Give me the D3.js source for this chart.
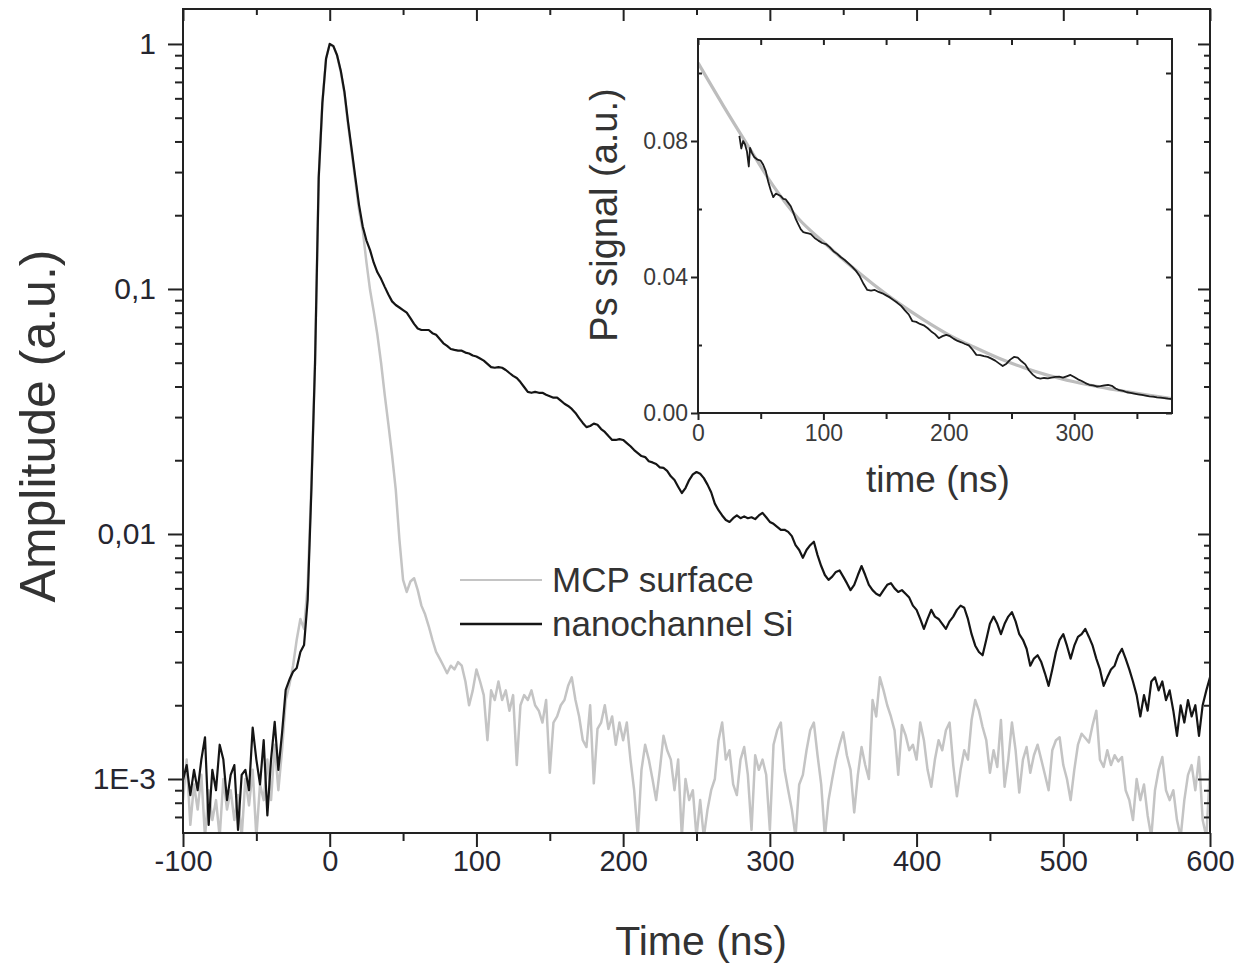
<!DOCTYPE html>
<html><head><meta charset="utf-8">
<script src="https://cdn.jsdelivr.net/npm/d3@7"></script>
<style>
html,body{margin:0;padding:0;background:#fff;}
svg{display:block;}
text{font-family:"Liberation Sans",Arial,Helvetica,sans-serif;}
</style></head><body>
<svg id="chart" width="1239" height="966"></svg>
<script>
// ---------------- DATA ----------------
// Main chart: sampling grid of the time axis (ns)
const mainTimeStart = -100;
const mainTimeStep = 2.5;

// nanochannel Si (black), amplitude (a.u.), one value per 2.5 ns from -100 ns
const nanoAmp = [
0.00099,0.00114,0.00086,0.00109,0.00090,0.00120,0.00148,0.00065,0.00109,0.00090,
0.00138,0.00120,0.00082,0.00104,0.00114,0.00062,0.00104,0.00109,0.00090,0.00162,
0.00120,0.00095,0.00144,0.00071,0.00120,0.00171,0.00109,0.00154,0.00231,0.00254,
0.00274,0.00284,0.00330,0.00352,0.0054,0.0151,0.050,0.285,0.575,0.87,
1.0,0.98,0.90,0.78,0.64,0.48,0.37,0.284,0.22,0.18,
0.158,0.144,0.128,0.117,0.110,0.102,0.095,0.089,0.086,0.084,
0.082,0.080,0.076,0.072,0.069,0.068,0.068,0.068,0.066,0.065,
0.0625,0.060,0.0586,0.0569,0.0564,0.0560,0.0560,0.055,0.0545,0.0535,
0.053,0.052,0.051,0.0495,0.048,0.0477,0.048,0.0477,0.0467,0.0454,
0.0442,0.0433,0.0417,0.0398,0.038,0.0377,0.038,0.0377,0.0377,0.037,
0.0365,0.036,0.036,0.035,0.034,0.0333,0.0324,0.0312,0.0297,0.0284,
0.0273,0.0276,0.0282,0.0279,0.0268,0.0261,0.0251,0.0242,0.0242,0.0244,
0.0242,0.0235,0.0228,0.0220,0.0214,0.0208,0.0206,0.0198,0.0196,0.0193,
0.0187,0.0186,0.0181,0.0172,0.0166,0.0156,0.0147,0.0154,0.0166,0.0175,
0.0179,0.0176,0.0169,0.0159,0.0148,0.0133,0.0125,0.0119,0.0114,0.0112,
0.0116,0.0119,0.0116,0.0118,0.0116,0.0117,0.0115,0.0119,0.0122,0.0117,
0.0112,0.0110,0.0107,0.0104,0.0104,0.0102,0.0098,0.0090,0.0086,0.0080,
0.0086,0.0090,0.0093,0.0082,0.0074,0.0068,0.0065,0.0067,0.0070,0.0071,
0.0067,0.0063,0.0059,0.0062,0.0068,0.0074,0.0068,0.0062,0.0059,0.0057,
0.0056,0.0059,0.0062,0.0063,0.0060,0.0058,0.0059,0.0057,0.0055,0.0051,
0.0049,0.0045,0.0041,0.0045,0.0049,0.0046,0.0045,0.0043,0.0041,0.0044,
0.0046,0.0049,0.0051,0.0050,0.0045,0.0039,0.0035,0.0033,0.0032,0.0037,
0.0043,0.0046,0.0043,0.0039,0.0043,0.0046,0.0048,0.0044,0.0039,0.0037,
0.0034,0.0029,0.0031,0.0032,0.0030,0.0027,0.0024,0.0028,0.0033,0.0037,
0.0039,0.0035,0.0031,0.0035,0.0038,0.0039,0.0041,0.0038,0.0035,0.0031,
0.0028,0.0024,0.0026,0.0028,0.0029,0.0032,0.0034,0.0031,0.0028,0.0025,
0.0022,0.0018,0.0022,0.0019,0.0025,0.0026,0.0023,0.0025,0.0021,0.0023,
0.0019,0.0015,0.0020,0.0017,0.0021,0.0018,0.0020,0.0015,0.0020,0.0023,
0.0026
];

// MCP surface (grey), amplitude (a.u.), same time grid
const mcpAmp = [
0.00082,0.0012,0.00065,0.00095,0.00075,0.00104,0.00058,0.0009,0.00068,0.00082,
0.00058,0.001,0.00075,0.0009,0.00068,0.00086,0.00058,0.001,0.00078,0.00109,
0.00058,0.00095,0.00082,0.0012,0.00082,0.00138,0.0009,0.00131,0.0021,0.00242,
0.0029,0.0037,0.0045,0.0041,0.0062,0.016,0.050,0.285,0.575,0.87,
1.0,0.98,0.90,0.77,0.63,0.47,0.36,0.275,0.21,0.174,
0.129,0.099,0.081,0.065,0.050,0.037,0.028,0.021,0.0152,0.0095,
0.0065,0.0058,0.0064,0.0066,0.0059,0.0051,0.0047,0.0042,0.0037,0.0033,
0.0031,0.0029,0.0027,0.0029,0.0028,0.0030,0.0029,0.0025,0.0020,0.0023,
0.0028,0.0025,0.0022,0.00144,0.0023,0.0021,0.0025,0.0021,0.0023,0.0019,
0.0022,0.00114,0.0020,0.0022,0.0021,0.0023,0.0020,0.0019,0.0017,0.0021,
0.00106,0.0017,0.0018,0.0020,0.0021,0.0024,0.0026,0.0021,0.0018,0.00144,
0.00135,0.0020,0.00096,0.0016,0.0017,0.0020,0.0016,0.0018,0.00138,0.0017,
0.00144,0.0017,0.0012,0.0009,0.00058,0.00109,0.00138,0.0012,0.001,0.00082,
0.00109,0.0015,0.00131,0.0012,0.0009,0.0012,0.00058,0.001,0.00082,0.0009,
0.00058,0.00082,0.00058,0.00075,0.0009,0.001,0.00144,0.0017,0.0012,0.00131,
0.00095,0.00086,0.0012,0.00135,0.00104,0.00062,0.00125,0.00109,0.0012,0.00104,
0.00062,0.00138,0.00158,0.0017,0.00109,0.0009,0.00075,0.00058,0.00095,0.00104,
0.00131,0.00158,0.0017,0.00125,0.00095,0.00058,0.00082,0.001,0.0012,0.00138,
0.00155,0.00125,0.00109,0.00073,0.00104,0.00135,0.00114,0.001,0.0021,0.0018,
0.0026,0.0023,0.002,0.0018,0.00158,0.00104,0.00166,0.00151,0.00131,0.00138,
0.0012,0.0017,0.00144,0.00109,0.00093,0.0012,0.00144,0.00131,0.00158,0.0017,
0.00114,0.00085,0.00109,0.00131,0.0012,0.00174,0.0021,0.0019,0.00163,0.00144,
0.00106,0.00131,0.00112,0.00174,0.00093,0.0012,0.0017,0.00131,0.00088,0.0012,
0.00135,0.00106,0.00125,0.00138,0.0012,0.00104,0.0009,0.00131,0.00144,0.00148,
0.00114,0.001,0.00082,0.00109,0.00138,0.00153,0.00147,0.00141,0.00166,0.0019,
0.0012,0.00112,0.00131,0.00114,0.00125,0.00118,0.00123,0.0009,0.00082,0.00068,
0.001,0.00082,0.00095,0.00071,0.00058,0.0009,0.00109,0.00123,0.0009,0.00082,
0.0009,0.00068,0.00058,0.00082,0.00104,0.00114,0.0009,0.00123,0.00068,0.00058,
0.00109
];

const xTickValues = [-100, 0, 100, 200, 300, 400, 500, 600];
const xTickLabels = ["-100", "0", "100", "200", "300", "400", "500", "600"];
const yTickValues = [1, 0.1, 0.01, 0.001];
const yTickLabels = ["1", "0,1", "0,01", "1E-3"];
const seriesNames = ["MCP surface", "nanochannel Si"];

// Inset: Ps signal data (black) and fit (grey)
const insetTime = [33,34.5,36,37.5,39,40.5,41.5,43,45,47.5,50,52,54,56,58,60,62,64,66,68,70,72,74,76,78,80,82,84,86,88,90,93,96,99,102,105,108,111,114,117,120,123,126,129,132,135,138,141,144,147,150,153,156,159,162,165,168,171,174,177,180,183,186,189,192,195,198,201,204,207,210,213,216,219,222,225,228,231,234,237,240,243,246,249,252,255,258,261,264,267,270,273,276,279,282,285,288,291,294,297,300,303,306,309,312,315,318,321,324,327,330,333,336,339,342,345,348,351,354,357,360,363,366,369,372,375,378];
const insetSignal = [0.0815,0.0778,0.0800,0.0790,0.0770,0.0725,0.0780,0.0765,0.0752,0.0745,0.0742,0.0730,0.0712,0.0680,0.0655,0.0635,0.0645,0.0642,0.0638,0.0630,0.0628,0.0618,0.0608,0.0590,0.0570,0.0555,0.0540,0.0532,0.0530,0.0528,0.0526,0.0515,0.0507,0.0500,0.0497,0.0488,0.0476,0.0468,0.0458,0.0450,0.0440,0.0430,0.0418,0.0402,0.0380,0.0362,0.0360,0.0362,0.0356,0.0352,0.0346,0.0340,0.0332,0.0324,0.0315,0.0302,0.0290,0.0270,0.0268,0.0262,0.0258,0.0250,0.0240,0.0232,0.0220,0.0226,0.0230,0.0226,0.0218,0.0212,0.0208,0.0203,0.0199,0.0186,0.0171,0.0170,0.0167,0.0165,0.0160,0.0154,0.0146,0.0138,0.0145,0.0157,0.0165,0.0163,0.0152,0.0143,0.0125,0.0113,0.0104,0.0101,0.0103,0.0102,0.0104,0.0106,0.0107,0.0104,0.0108,0.0112,0.0106,0.0099,0.0094,0.0088,0.0083,0.0081,0.0078,0.0079,0.0081,0.0083,0.0080,0.0072,0.0067,0.0065,0.0061,0.0059,0.0057,0.0055,0.0053,0.0051,0.0049,0.0048,0.0046,0.0045,0.0044,0.0042,0.0041];
const fitTime = [0,20,40,60,80,100,120,140,160,180,200,220,240,260,280,300,320,340,360,378];
const fitSignal = [0.103,0.0905,0.0785,0.0668,0.0572,0.0503,0.0438,0.0378,0.0323,0.0274,0.0230,0.0194,0.0161,0.0133,0.0110,0.0092,0.0077,0.0064,0.0052,0.0042];
const insetXTicks = [0, 100, 200, 300];
const insetXLabels = ["0", "100", "200", "300"];
const insetYTicks = [0, 0.04, 0.08];
const insetYLabels = ["0.00", "0.04", "0.08"];

if (nanoAmp.length !== mcpAmp.length) throw new Error("length mismatch " + nanoAmp.length + " " + mcpAmp.length);
if (insetTime.length !== insetSignal.length) throw new Error("inset mismatch " + insetTime.length + " " + insetSignal.length);
if (fitTime.length !== fitSignal.length) throw new Error("fit mismatch");

const mainTime = nanoAmp.map((_, i) => mainTimeStart + i * mainTimeStep);

// ---------------- DRAW ----------------
const svg = d3.select("#chart");
svg.append("rect").attr("width", 1239).attr("height", 966).attr("fill", "#fff");

const INK = "#222";
const LABEL = "#262630";

const x = d3.scaleLinear().domain([-100, 600]).range([183, 1210]);
const y = d3.scaleLog().domain([6.02e-4, 1.389]).range([833, 9]);

const defs = svg.append("defs");
defs.append("clipPath").attr("id", "clipMain").append("rect")
  .attr("x", 183).attr("y", 9).attr("width", 1027).attr("height", 824);

const line = d3.line().x(d => x(d[0])).y(d => y(d[1]));
const mcpData = mainTime.map((t, i) => [t, mcpAmp[i]]);
const nanoData = mainTime.map((t, i) => [t, nanoAmp[i]]);

const plot = svg.append("g").attr("clip-path", "url(#clipMain)");
plot.append("path").datum(mcpData).attr("d", line)
  .attr("fill", "none").attr("stroke", "#c4c4c4").attr("stroke-width", 2.5).attr("stroke-linejoin", "round");
plot.append("path").datum(nanoData).attr("d", line)
  .attr("fill", "none").attr("stroke", "#151515").attr("stroke-width", 2.2).attr("stroke-linejoin", "round");

function styleAxis(g, fontSize, color) {
  g.select(".domain").remove();
  g.selectAll(".tick line").attr("stroke", INK).attr("stroke-width", 2);
  g.selectAll(".tick text").attr("fill", color).attr("font-size", fontSize)
    .attr("font-family", '"Liberation Sans", Arial, sans-serif');
}

// minor tick values
const yMinor = [];
for (let e = -4; e <= 0; e++) {
  for (let m = 2; m <= 9; m++) {
    const v = m * Math.pow(10, e);
    if (v > 6.1e-4 && v < 1.38) yMinor.push(v);
  }
}
const xMinor = [-50, 50, 150, 250, 350, 450, 550];

// left
svg.append("g").attr("transform", "translate(183,0)")
  .call(d3.axisLeft(y).tickValues(yTickValues).tickFormat((d, i) => yTickLabels[i]).tickSize(15).tickPadding(12))
  .call(g => styleAxis(g, 30, LABEL));
svg.append("g").attr("transform", "translate(183,0)")
  .call(d3.axisLeft(y).tickValues(yMinor).tickFormat("").tickSize(8))
  .call(g => styleAxis(g, 30, LABEL));
// right (inward)
svg.append("g").attr("transform", "translate(1210,0)")
  .call(d3.axisRight(y).tickValues(yTickValues).tickFormat("").tickSize(-12))
  .call(g => styleAxis(g, 30, LABEL));
svg.append("g").attr("transform", "translate(1210,0)")
  .call(d3.axisRight(y).tickValues(yMinor).tickFormat("").tickSize(-6))
  .call(g => styleAxis(g, 30, LABEL));
// bottom
svg.append("g").attr("transform", "translate(0,833)")
  .call(d3.axisBottom(x).tickValues(xTickValues).tickFormat((d, i) => xTickLabels[i]).tickSize(14).tickPadding(3))
  .call(g => styleAxis(g, 29, LABEL));
svg.append("g").attr("transform", "translate(0,833)")
  .call(d3.axisBottom(x).tickValues(xMinor).tickFormat("").tickSize(8))
  .call(g => styleAxis(g, 29, LABEL));
// top (inward)
svg.append("g").attr("transform", "translate(0,9)")
  .call(d3.axisTop(x).tickValues(xTickValues).tickFormat("").tickSize(-12))
  .call(g => styleAxis(g, 29, LABEL));
svg.append("g").attr("transform", "translate(0,9)")
  .call(d3.axisTop(x).tickValues(xMinor).tickFormat("").tickSize(-6))
  .call(g => styleAxis(g, 29, LABEL));

// frame
svg.append("rect").attr("x", 183).attr("y", 9).attr("width", 1027).attr("height", 824)
  .attr("fill", "none").attr("stroke", INK).attr("stroke-width", 2);

// axis titles
svg.append("text").attr("transform", "translate(55,426) rotate(-90)")
  .attr("text-anchor", "middle").attr("font-size", 50).attr("fill", "#333")
  .text("Amplitude (a.u.)");
svg.append("text").attr("x", 701).attr("y", 955)
  .attr("text-anchor", "middle").attr("font-size", 41).attr("fill", "#333")
  .text("Time (ns)");

// legend
const legendColors = ["#c4c4c4", "#151515"];
const leg = svg.append("g");
seriesNames.forEach((name, i) => {
  const ly = 580 + i * 44;
  leg.append("line").attr("x1", 460).attr("x2", 542).attr("y1", ly).attr("y2", ly)
    .attr("stroke", legendColors[i]).attr("stroke-width", i === 0 ? 2 : 2.5);
  leg.append("text").attr("x", 552).attr("y", ly + 12).attr("font-size", 35).attr("fill", "#333").text(name);
});

// ---------------- INSET ----------------
const xi = d3.scaleLinear().domain([0, 378]).range([698, 1172]);
const yi = d3.scaleLinear().domain([0, 0.11]).range([413, 39]);

svg.append("rect").attr("x", 698).attr("y", 39).attr("width", 474).attr("height", 374)
  .attr("fill", "#fff");

defs.append("clipPath").attr("id", "clipInset").append("rect")
  .attr("x", 698).attr("y", 39).attr("width", 474).attr("height", 374);

const iline = d3.line().x(d => xi(d[0])).y(d => yi(d[1]));
const ifit = d3.line().x(d => xi(d[0])).y(d => yi(d[1])).curve(d3.curveMonotoneX);
const ig = svg.append("g").attr("clip-path", "url(#clipInset)");
ig.append("path").datum(fitTime.map((t, i) => [t, fitSignal[i]])).attr("d", ifit)
  .attr("fill", "none").attr("stroke", "#bdbdbd").attr("stroke-width", 3.2);
ig.append("path").datum(insetTime.map((t, i) => [t, insetSignal[i]])).attr("d", iline)
  .attr("fill", "none").attr("stroke", "#1c1c1c").attr("stroke-width", 1.8).attr("stroke-linejoin", "round");

const iyMinor = [0.02, 0.06, 0.10];
const ixMinor = [50, 150, 250, 350];
const IL = "#3a3a3a";
svg.append("g").attr("transform", "translate(698,0)")
  .call(d3.axisLeft(yi).tickValues(insetYTicks).tickFormat((d, i) => insetYLabels[i]).tickSize(7).tickPadding(3))
  .call(g => styleAxis(g, 23, IL));
svg.append("g").attr("transform", "translate(698,0)")
  .call(d3.axisLeft(yi).tickValues(iyMinor).tickFormat("").tickSize(-4))
  .call(g => styleAxis(g, 23, IL));
svg.append("g").attr("transform", "translate(1172,0)")
  .call(d3.axisRight(yi).tickValues(insetYTicks.concat(iyMinor)).tickFormat("").tickSize(-6))
  .call(g => styleAxis(g, 23, IL));
svg.append("g").attr("transform", "translate(0,413)")
  .call(d3.axisBottom(xi).tickValues(insetXTicks).tickFormat((d, i) => insetXLabels[i]).tickSize(7).tickPadding(5))
  .call(g => styleAxis(g, 23, IL));
svg.append("g").attr("transform", "translate(0,413)")
  .call(d3.axisBottom(xi).tickValues(ixMinor).tickFormat("").tickSize(6))
  .call(g => styleAxis(g, 23, IL));
svg.append("g").attr("transform", "translate(0,39)")
  .call(d3.axisTop(xi).tickValues(insetXTicks.concat(ixMinor)).tickFormat("").tickSize(-6))
  .call(g => styleAxis(g, 23, IL));

svg.append("rect").attr("x", 698).attr("y", 39).attr("width", 474).attr("height", 374)
  .attr("fill", "none").attr("stroke", INK).attr("stroke-width", 2);

svg.append("text").attr("transform", "translate(617,215) rotate(-90)")
  .attr("text-anchor", "middle").attr("font-size", 38).attr("fill", "#333")
  .text("Ps signal (a.u.)");
svg.append("text").attr("x", 938).attr("y", 492)
  .attr("text-anchor", "middle").attr("font-size", 37).attr("fill", "#333")
  .text("time (ns)");
</script>
</body></html>
